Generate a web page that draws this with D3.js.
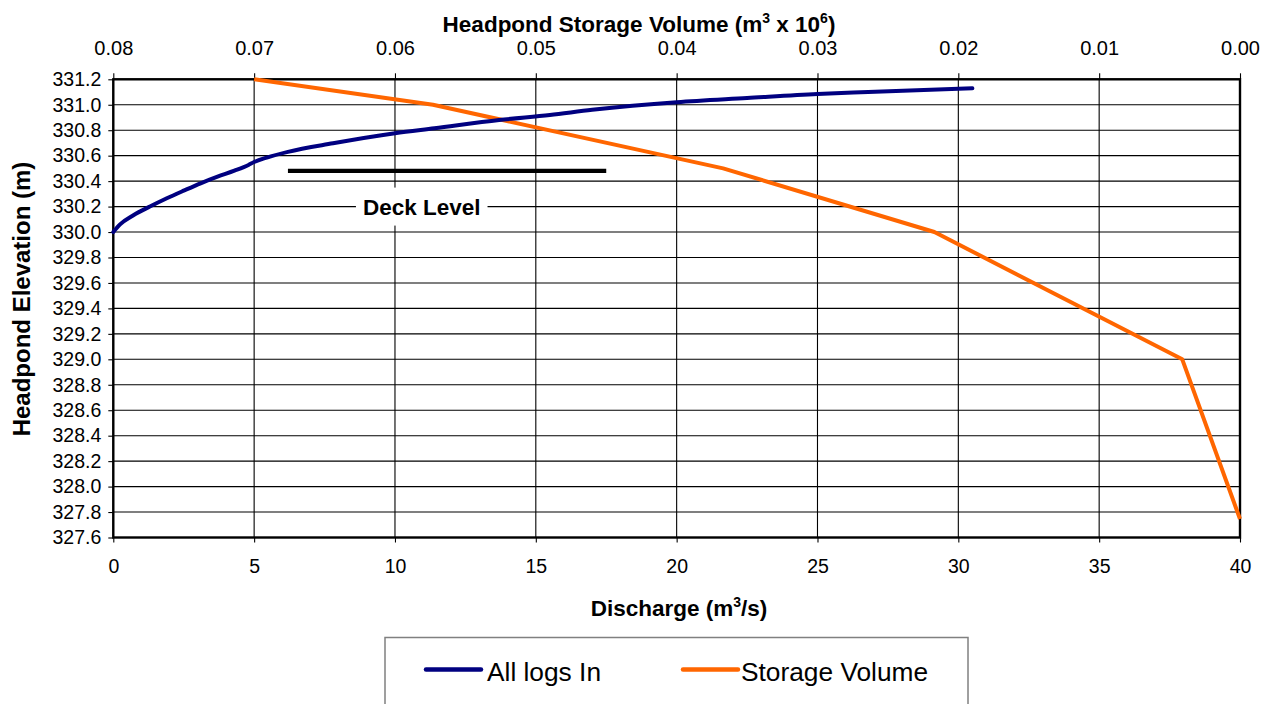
<!DOCTYPE html>
<html>
<head>
<meta charset="utf-8">
<script src="https://cdn.jsdelivr.net/npm/d3@7"></script>
<style>
  html, body { margin: 0; padding: 0; background: #fff; }
  svg { display: block; font-family: "Liberation Sans", Arial, sans-serif; }
</style>
</head>
<body>
<svg id="chart" width="1275" height="704"></svg>
<script>
// Rating curve with all logs in (discharge, m3/s vs headpond elevation, m)
const dischargeAllLogs = [0, 0.24, 0.7, 1.3, 1.9, 2.5, 3.1, 3.7, 4.3, 4.8, 5.0, 5.45, 6.2, 7.8, 10.0, 11.4, 13.7, 15.5, 17.0, 20.0, 22.5, 25.0, 26.8, 30.5];
const elevationAllLogs = [330.0, 330.06, 330.13, 330.2, 330.265, 330.325, 330.383, 330.435, 330.482, 330.527, 330.55, 330.585, 330.63, 330.697, 330.776, 330.815, 330.88, 330.92, 330.96, 331.02, 331.053, 331.085, 331.1, 331.13];

// Headpond storage (m3 x 10^6) vs elevation, read against the top axis
const storageVolume = [0.070, 0.0573, 0.0367, 0.0217, 0.0041, 0.0];
const elevationStorage = [331.2, 331.0, 330.5, 330.0, 329.0, 327.745];

// Deck level marker
const deckLevel = 330.48;
const deckExtent = [6.2, 17.5];
const deckLabel = "Deck Level";

// Axis ticks
const dischargeTicks = [0, 5, 10, 15, 20, 25, 30, 35, 40];
const volumeTicks = [0.08, 0.07, 0.06, 0.05, 0.04, 0.03, 0.02, 0.01, 0.00];
const elevationTicks = [327.6, 327.8, 328.0, 328.2, 328.4, 328.6, 328.8, 329.0, 329.2, 329.4, 329.6, 329.8, 330.0, 330.2, 330.4, 330.6, 330.8, 331.0, 331.2];

const seriesNames = ["All logs In", "Storage Volume"];
const seriesColors = ["#000080", "#FF6600"];

const svg = d3.select("#chart");
const plot = { left: 113.3, right: 1240, top: 79.3, bottom: 537.5 };

const x = d3.scaleLinear().domain([0, 40]).range([plot.left, plot.right]);
const xTop = d3.scaleLinear().domain([0.08, 0]).range([plot.left, plot.right]);
const y = d3.scaleLinear().domain([327.6, 331.2]).range([plot.bottom, plot.top]);

svg.append("rect").attr("width", 1275).attr("height", 704).attr("fill", "#fff");

// Gridlines
const grid = svg.append("g").attr("stroke", "#000").attr("stroke-width", 1.1);
grid.selectAll("line.h").data(elevationTicks).join("line")
  .attr("class", "h")
  .attr("x1", plot.left).attr("x2", plot.right)
  .attr("y1", d => y(d)).attr("y2", d => y(d));
grid.selectAll("line.v").data(dischargeTicks).join("line")
  .attr("class", "v")
  .attr("y1", plot.top).attr("y2", plot.bottom)
  .attr("x1", d => x(d)).attr("x2", d => x(d));

// Axes
function styleAxis(g, size) {
  g.select(".domain").remove();
  g.selectAll(".tick line").attr("stroke", "#000").attr("stroke-width", 1.1);
  g.selectAll(".tick text")
    .attr("fill", "#000")
    .style("font-family", "'Liberation Sans', Arial, sans-serif")
    .style("font-size", size + "px");
}

svg.append("g")
  .attr("transform", `translate(${plot.left},0)`)
  .call(d3.axisLeft(y).tickValues(elevationTicks).tickFormat(d3.format(".1f")).tickSize(5).tickPadding(7))
  .call(g => styleAxis(g, 19.5));

svg.append("g")
  .attr("transform", `translate(0,${plot.bottom})`)
  .call(d3.axisBottom(x).tickValues(dischargeTicks).tickFormat(d3.format("d")).tickSize(5).tickPadding(17))
  .call(g => styleAxis(g, 19.5));

svg.append("g")
  .attr("transform", `translate(0,${plot.top})`)
  .call(d3.axisTop(xTop).tickValues(volumeTicks).tickFormat(d3.format(".2f")).tickSize(6).tickPadding(18))
  .call(g => styleAxis(g, 20));

// Plot frame
svg.append("rect")
  .attr("x", plot.left).attr("y", plot.top)
  .attr("width", plot.right - plot.left).attr("height", plot.bottom - plot.top)
  .attr("fill", "none").attr("stroke", "#000").attr("stroke-width", 2.4);

// Deck level bar and label
svg.append("line")
  .attr("x1", x(deckExtent[0])).attr("x2", x(deckExtent[1]))
  .attr("y1", y(deckLevel)).attr("y2", y(deckLevel))
  .attr("stroke", "#000").attr("stroke-width", 4.3);

const deckG = svg.append("g");
const deckBox = deckG.append("rect").attr("fill", "#fff");
const deckText = deckG.append("text")
  .attr("x", x(10.95)).attr("y", y(330.2) + 8)
  .attr("text-anchor", "middle")
  .style("font-size", "22.5px").style("font-weight", "bold")
  .text(deckLabel);
const bb = deckText.node().getBBox();
deckBox.attr("x", bb.x - 7).attr("y", y(330.2) - 19)
  .attr("width", bb.width + 14).attr("height", 38);

// Series
const allLogs = dischargeAllLogs.map((q, i) => [x(q), y(elevationAllLogs[i])]);
const storage = storageVolume.map((v, i) => [xTop(v), y(elevationStorage[i])]);

svg.append("path")
  .attr("d", d3.line().curve(d3.curveLinear)(storage))
  .attr("fill", "none").attr("stroke", seriesColors[1])
  .attr("stroke-width", 4).attr("stroke-linejoin", "round");

svg.append("path")
  .attr("d", d3.line().curve(d3.curveMonotoneX)(allLogs))
  .attr("fill", "none").attr("stroke", seriesColors[0])
  .attr("stroke-width", 4).attr("stroke-linecap", "round").attr("stroke-linejoin", "round");

// Axis titles
const topTitle = svg.append("text")
  .attr("x", 639).attr("y", 32)
  .attr("text-anchor", "middle")
  .style("font-size", "22.5px").style("font-weight", "bold");
topTitle.append("tspan").text("Headpond Storage Volume (m");
topTitle.append("tspan").attr("dy", -9).style("font-size", "14px").text("3");
topTitle.append("tspan").attr("dy", 9).text(" x 10");
topTitle.append("tspan").attr("dy", -9).style("font-size", "14px").text("6");
topTitle.append("tspan").attr("dy", 9).text(")");

const bottomTitle = svg.append("text")
  .attr("x", 679).attr("y", 616)
  .attr("text-anchor", "middle")
  .style("font-size", "22.5px").style("font-weight", "bold");
bottomTitle.append("tspan").text("Discharge (m");
bottomTitle.append("tspan").attr("dy", -9).style("font-size", "14px").text("3");
bottomTitle.append("tspan").attr("dy", 9).text("/s)");

svg.append("text")
  .attr("transform", "translate(30,299) rotate(-90)")
  .attr("text-anchor", "middle")
  .style("font-size", "24px").style("font-weight", "bold")
  .text("Headpond Elevation (m)");

// Legend
const legend = svg.append("g");
legend.append("rect")
  .attr("x", 385).attr("y", 637.5).attr("width", 583).attr("height", 80)
  .attr("fill", "#fff").attr("stroke", "#808080").attr("stroke-width", 1.5);

const legendItems = [
  { name: seriesNames[0], color: seriesColors[0], x0: 426, x1: 481, tx: 487 },
  { name: seriesNames[1], color: seriesColors[1], x0: 683, x1: 738, tx: 741 }
];
legendItems.forEach(it => {
  legend.append("line")
    .attr("x1", it.x0).attr("x2", it.x1).attr("y1", 669.5).attr("y2", 669.5)
    .attr("stroke", it.color).attr("stroke-width", 4.5).attr("stroke-linecap", "round");
  legend.append("text")
    .attr("x", it.tx).attr("y", 681)
    .style("font-size", "26.3px")
    .text(it.name);
});
</script>
</body>
</html>
